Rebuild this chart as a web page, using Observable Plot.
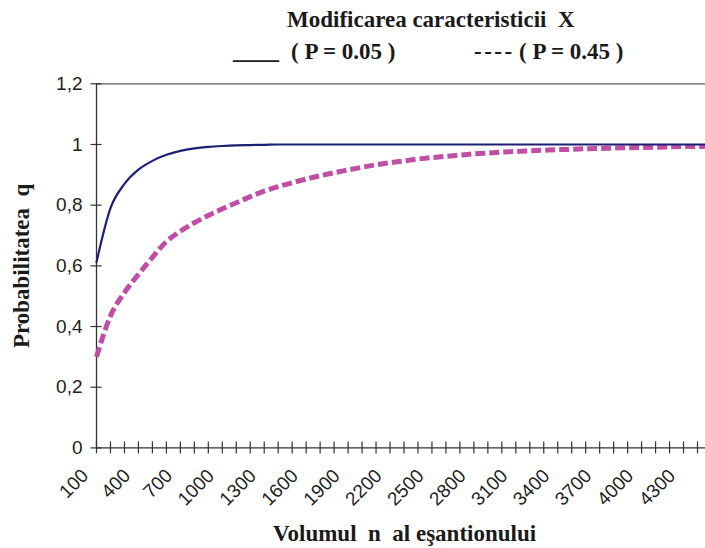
<!DOCTYPE html>
<html><head><meta charset="utf-8">
<script src="https://cdn.jsdelivr.net/npm/d3@7"></script>
<script src="https://cdn.jsdelivr.net/npm/@observablehq/plot@0.6"></script>
<style>
html,body{margin:0;padding:0;background:#fff;overflow:hidden;}
#wrap{position:relative;width:705px;height:548px;}
.t{position:absolute;font-family:"Liberation Serif","Times New Roman",serif;font-weight:bold;font-size:23px;line-height:23px;white-space:pre;color:#1a1a1a;}
#head{position:relative;height:70px;}
#foot{position:relative;height:30px;}
#chart svg text{white-space:pre;}
</style></head><body>
<div id="wrap">
  <div id="head">
    <span class="t" id="title" style="left:287px;top:8px"></span>
    <span class="t" id="l1sym" style="left:233px;top:40px"></span>
    <span class="t" id="l1txt" style="left:291px;top:40px"></span>
    <span class="t" id="l2sym" style="left:474px;top:40px;letter-spacing:2.5px"></span>
    <span class="t" id="l2txt" style="left:519px;top:40px"></span>
  </div>
  <div id="chart"></div>
  <div id="foot"><span class="t" id="xtitle" style="left:273px;top:4px"></span></div>
</div>
<script>
// ---- data ----
const titleText = "Modificarea caracteristicii  X";
const legendSymbols = ["____", "----"];
const legendLabels = ["( P = 0.05 )", "( P = 0.45 )"];
const xTitle = "Volumul  n  al eşantionului";
const yTitle = "Probabilitatea  q";

const nValues = [100,200,300,400,500,600,700,800,900,1000,1100,1200,1300,1400,1500,1600,1700,1800,1900,2000,
  2100,2200,2300,2400,2500,2600,2700,2800,2900,3000,3100,3200,3300,3400,3500,3600,3700,3800,3900,4000,
  4100,4200,4300,4400,4500];
const qP005 = [0.612,0.79,0.870,0.917,0.946,0.966,0.979,0.987,0.992,0.995,0.997,0.998,0.999,1,1,1,1,1,1,1,
  1,1,1,1,1,1,1,1,1,1,1,1,1,1,1,1,1,1,1,1,
  1,1,1,1,1];
const qP045 = [0.30,0.435,0.512,0.572,0.628,0.68,0.714,0.742,0.766,0.788,0.808,0.828,0.846,0.861,0.874,0.886,0.897,0.907,0.916,0.925,
  0.933,0.940,0.946,0.952,0.957,0.961,0.965,0.969,0.972,0.975,0.977,0.979,0.981,0.983,0.984,0.986,0.987,0.988,0.989,0.990,
  0.991,0.992,0.993,0.993,0.994];

const xTickValues = [100,200,300,400,500,600,700,800,900,1000,1100,1200,1300,1400,1500,1600,1700,1800,1900,2000,
  2100,2200,2300,2400,2500,2600,2700,2800,2900,3000,3100,3200,3300,3400,3500,3600,3700,3800,3900,4000,
  4100,4200,4300,4400];
const xLabelValues = [100,400,700,1000,1300,1600,1900,2200,2500,2800,3100,3400,3700,4000,4300];
const xLabels = ["100","400","700","1000","1300","1600","1900","2200","2500","2800","3100","3400","3700","4000","4300"];
const yTickValues = [0,0.2,0.4,0.6,0.8,1,1.2];
const yLabels = ["0","0,2","0,4","0,6","0,8","1","1,2"];

// ---- text ----
document.getElementById("title").textContent = titleText;
document.getElementById("l1sym").textContent = legendSymbols[0];
document.getElementById("l1txt").textContent = legendLabels[0];
document.getElementById("l2sym").textContent = legendSymbols[1];
document.getElementById("l2txt").textContent = legendLabels[1];
document.getElementById("xtitle").textContent = xTitle;

const rows005 = nValues.map((n, i) => ({n, q: qP005[i]}));
const rows045 = nValues.map((n, i) => ({n, q: qP045[i]}));

const sans = "Liberation Sans, Arial, sans-serif";
const serif = "Liberation Serif, Times New Roman, serif";
const axisColor = "#333";

const chart = Plot.plot({
  width: 705,
  height: 448,
  marginLeft: 96,
  marginRight: 8,
  marginTop: 13.3,
  marginBottom: 70.6,
  x: {type: "linear", domain: [100, 4400], axis: null},
  y: {type: "linear", domain: [0, 1.2], axis: null},
  style: {background: "#fff", overflow: "hidden"},
  marks: [
    Plot.ruleY([1.2], {stroke: "#8c8c8c", strokeWidth: 1.8, insetRight: -8}),
    Plot.ruleY([0], {stroke: axisColor, strokeWidth: 1.3, insetRight: -8}),
    Plot.ruleX([100], {stroke: axisColor, strokeWidth: 1.3}),
    Plot.ruleX(xTickValues, {x: d => d, y1: 0, y2: 0, insetTop: -6, insetBottom: -6, stroke: axisColor, strokeWidth: 1.2}),
    Plot.ruleY(yTickValues, {y: d => d, x1: 100, x2: 100, insetLeft: -5.5, insetRight: -5.5, stroke: axisColor, strokeWidth: 1.2}),
    Plot.line(rows045, {x: "n", y: "q", curve: "monotone-x", stroke: "#c04ea5", strokeWidth: 5,
      strokeDasharray: "10,4", strokeLinecap: "butt", strokeLinejoin: "miter"}),
    Plot.line(rows005, {x: "n", y: "q", curve: "monotone-x", stroke: "#1c1f73", strokeWidth: 2.2}),
    Plot.text(xLabelValues, {x: d => d, y: 0, text: (d, i) => xLabels[i], rotate: -45, textAnchor: "end", lineAnchor: "bottom",
      dx: -7, dy: 29, fontSize: 19, fontFamily: sans, fill: "#222"}),
    Plot.text(yTickValues, {y: d => d, frameAnchor: "left", text: (d, i) => yLabels[i], textAnchor: "end", lineAnchor: "middle",
      dx: -14, fontSize: 19, fontFamily: sans, fill: "#222"}),
    Plot.text([yTitle], {frameAnchor: "left", text: d => d, rotate: -90, textAnchor: "middle", lineAnchor: "bottom",
      dx: -68, fontSize: 23, fontWeight: "bold", fontFamily: serif, fill: "#1a1a1a"})
  ]
});
document.getElementById("chart").appendChild(chart);
</script>
</body></html>
